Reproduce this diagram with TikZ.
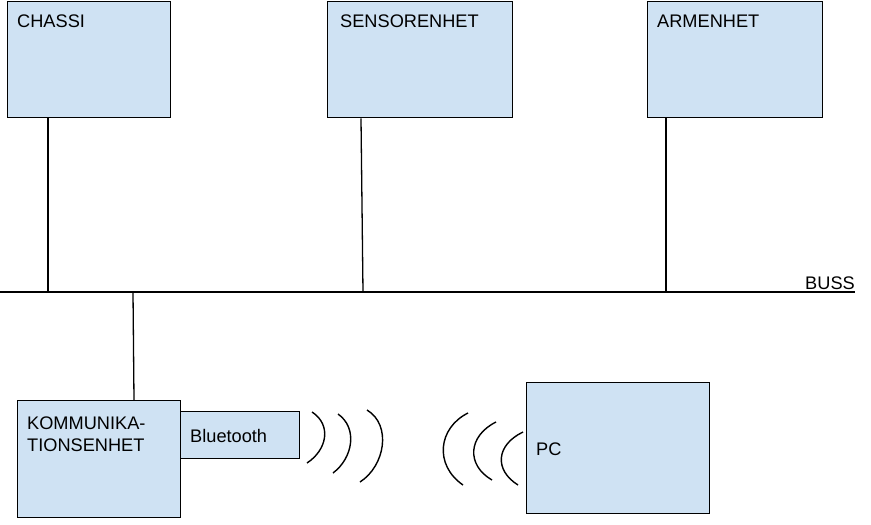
\documentclass[tikz,border=0pt]{standalone}
\usepackage{fontspec}
\setmainfont{Liberation Sans}
\definecolor{boxfill}{HTML}{CFE2F3}
\begin{document}
\begin{tikzpicture}[x=1pt,y=-1pt,
  unitbox/.style={draw=black, fill=boxfill, line width=1.4pt, rectangle, inner sep=0pt, anchor=north west},
  wire/.style={line width=1.3pt, black},
  lbl/.style={anchor=base west, inner sep=0pt, font=\fontsize{18.2}{22}\selectfont},
  wave/.style={line width=1.4pt, black}]
\useasboundingbox (0,0) rectangle (871,525);
% boxes
\node[unitbox, minimum width=163pt, minimum height=116pt] (chassi) at (7,1) {};
\node[unitbox, minimum width=185pt, minimum height=116pt] (sensor) at (327,1) {};
\node[unitbox, minimum width=175pt, minimum height=116pt] (armen) at (647,1) {};
\node[unitbox, minimum width=163pt, minimum height=117pt] (komm) at (17,400) {};
\node[unitbox, minimum width=119pt, minimum height=47pt] (bt) at (180,411) {};
\node[unitbox, minimum width=183pt, minimum height=131pt] (pc) at (526,382) {};
% labels
\node[lbl] (tchassi) at (17,27) {CHASSI};
\node[lbl] (tsensor) at (340,27) {SENSORENHET};
\node[lbl] (tarmen) at (657,27) {ARMENHET};
\node[lbl, align=left, anchor=north west] (tkomm) at (27,417) {KOMMUNIKA-\\TIONSENHET};
\node[lbl] (tbt) at (190,442) {Bluetooth};
\node[lbl] (tpc) at (536,455) {PC};
\node[lbl, anchor=base east] (tbuss) at (855,289) {BUSS};
% bus
\coordinate (busL) at (0,292);
\coordinate (busR) at (855,292);
\coordinate (b1) at (48,292);
\coordinate (b2) at (363,292);
\coordinate (b3) at (666,292);
\coordinate (b4) at (133,292);
\draw[wire] (busL) -- (busR);
\draw[wire] ([xshift=41pt]chassi.south west) -- (b1);
\draw[wire] ([xshift=34pt]sensor.south west) -- (b2);
\draw[wire] ([xshift=19pt]armen.south west) -- (b3);
\draw[wire] (b4) -- ([xshift=117pt]komm.north west);
% radio waves (right-facing)
\draw[wave] (312,412) .. controls (332,425) and (327,450) .. (307,463);
\draw[wave] (338,414) .. controls (358,428) and (353,458) .. (333,473);
\draw[wave] (367,410) .. controls (392,425) and (385,466) .. (360,482);
% radio waves (left-facing)
\draw[wave] (468,413) .. controls (438,428) and (434,465) .. (463,485);
\draw[wave] (496,422) .. controls (468,436) and (466,465) .. (492,480);
\draw[wave] (523,432) .. controls (496,445) and (494,470) .. (518,485);
\end{tikzpicture}
\end{document}
